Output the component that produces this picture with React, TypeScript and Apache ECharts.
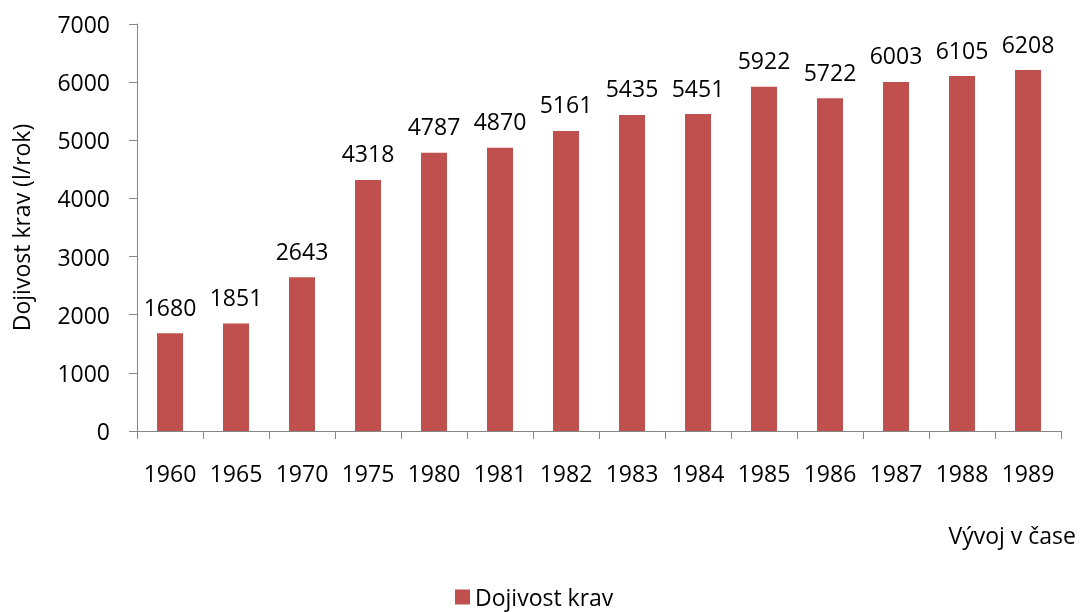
import React, { useEffect, useRef } from "react";
import * as echarts from "echarts";

const categories = ["1960", "1965", "1970", "1975", "1980", "1981", "1982", "1983", "1984", "1985", "1986", "1987", "1988", "1989"];
const values = [1680, 1851, 2643, 4318, 4787, 4870, 5161, 5435, 5451, 5922, 5722, 6003, 6105, 6208];
const seriesName = "Dojivost krav";
const yAxisTitle = "Dojivost krav (l/rok)";
const xAxisTitle = "Vývoj v čase";

const FONT = "'Open Sans', sans-serif";
const AXIS = "#868686";

export default function App() {
  const ref = useRef<HTMLDivElement>(null);
  useEffect(() => {
    if (!ref.current) return;
    const chart = echarts.init(ref.current, undefined, { renderer: "svg" });
    chart.setOption({
      animation: false,
      textStyle: { fontFamily: FONT },
      grid: { left: 137, right: 26, top: 24, bottom: 181 },
      legend: {
        data: [seriesName],
        left: 455,
        top: 584,
        padding: 0,
        icon: "rect",
        itemWidth: 15,
        itemHeight: 15,
        itemGap: 8,
        textStyle: { fontFamily: FONT, fontSize: 23, color: "#000", lineHeight: 26 },
      },
      xAxis: {
        type: "category",
        data: categories,
        axisLine: { lineStyle: { color: AXIS, width: 1 } },
        axisTick: { show: true, length: 8, alignWithLabel: false, lineStyle: { color: AXIS } },
        axisLabel: { color: "#000", fontSize: 23, fontFamily: FONT, margin: 30, interval: 0 },
      },
      yAxis: {
        type: "value",
        min: 0,
        max: 7000,
        interval: 1000,
        name: yAxisTitle,
        nameLocation: "middle",
        nameGap: 105,
        nameTextStyle: { color: "#000", fontSize: 23, fontFamily: FONT },
        axisLine: { show: true, lineStyle: { color: AXIS, width: 1 } },
        axisTick: { show: true, length: 8, lineStyle: { color: AXIS } },
        splitLine: { show: false },
        axisLabel: {
          color: "#000",
          fontSize: 23,
          fontFamily: FONT,
          margin: 27,
          formatter: (v: number) => String(v),
        },
      },
      graphic: [
        {
          type: "text",
          right: 11,
          top: 523,
          style: { text: xAxisTitle, fill: "#000", font: `23px ${FONT}` },
        },
      ],
      series: [
        {
          name: seriesName,
          type: "bar",
          data: values,
          barWidth: 26,
          itemStyle: { color: "#C0504D" },
          label: {
            show: true,
            position: "top",
            distance: 15,
            color: "#000",
            fontSize: 23,
            fontFamily: FONT,
          },
        },
      ],
    });
    return () => chart.dispose();
  }, []);
  return <div ref={ref} style={{ position: "fixed", left: 0, top: 0, width: 1087, height: 612 }} />;
}
